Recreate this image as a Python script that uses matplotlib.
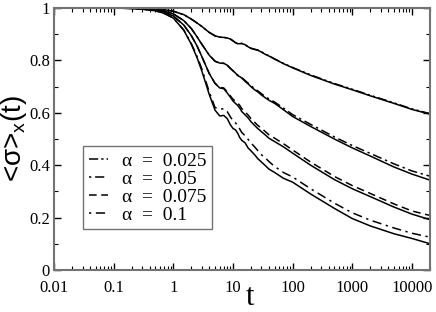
import numpy as np
import matplotlib
matplotlib.use('Agg')
import matplotlib.pyplot as plt
from matplotlib.ticker import FixedLocator, LogLocator, MultipleLocator, NullFormatter

# time grid shared by all curves
t = [0.01, 0.1, 0.2, 0.3, 0.5, 0.7, 1, 1.5, 2, 2.5, 3, 4, 5, 6, 7, 8, 9, 10, 11, 12,
     13, 14, 16, 18, 20, 23, 26, 30, 35, 40, 50, 70, 100, 200, 500, 1000, 2000,
     5000, 10000, 20000]

# alpha = 0.025
a1_solid = [1.0, 1.0, 0.9995, 0.999, 0.997, 0.994, 0.988, 0.975, 0.958, 0.943, 0.93,
            0.907, 0.894, 0.889, 0.888, 0.886, 0.882, 0.875, 0.868, 0.864, 0.864,
            0.865, 0.86, 0.852, 0.846, 0.842, 0.839, 0.832, 0.823, 0.817, 0.805,
            0.788, 0.772, 0.743, 0.71, 0.688, 0.665, 0.636, 0.613, 0.595]
a1_dash = [1.0, 1.0, 0.9995, 0.999, 0.997, 0.994, 0.988, 0.975, 0.958, 0.943, 0.93,
           0.907, 0.894, 0.889, 0.888, 0.886, 0.882, 0.875, 0.868, 0.864, 0.864,
           0.865, 0.86, 0.852, 0.847, 0.843, 0.84, 0.833, 0.824, 0.818, 0.806,
           0.789, 0.773, 0.745, 0.712, 0.69, 0.667, 0.638, 0.615, 0.597]

# alpha = 0.05
a2_solid = [1.0, 1.0, 0.999, 0.998, 0.994, 0.989, 0.978, 0.952, 0.922, 0.89, 0.862,
            0.82, 0.797, 0.79, 0.789, 0.782, 0.77, 0.76, 0.752, 0.742, 0.738, 0.733,
            0.72, 0.71, 0.70, 0.688, 0.68, 0.668, 0.657, 0.648, 0.636, 0.612, 0.586,
            0.548, 0.5, 0.466, 0.435, 0.393, 0.366, 0.343]
a2_dash = [1.0, 1.0, 0.999, 0.998, 0.994, 0.989, 0.978, 0.952, 0.922, 0.89, 0.862,
           0.82, 0.797, 0.79, 0.789, 0.782, 0.77, 0.761, 0.753, 0.744, 0.74, 0.735,
           0.723, 0.713, 0.704, 0.692, 0.684, 0.673, 0.662, 0.653, 0.641, 0.618,
           0.593, 0.556, 0.508, 0.475, 0.445, 0.405, 0.378, 0.358]

# alpha = 0.075
a3_solid = [1.0, 1.0, 0.999, 0.997, 0.992, 0.985, 0.97, 0.935, 0.895, 0.855, 0.815,
            0.75, 0.712, 0.695, 0.692, 0.676, 0.66, 0.645, 0.636, 0.628, 0.618,
            0.605, 0.592, 0.58, 0.566, 0.552, 0.54, 0.528, 0.515, 0.503, 0.49,
            0.47, 0.446, 0.40, 0.345, 0.31, 0.28, 0.24, 0.213, 0.192]
a3_dash = [1.0, 1.0, 0.999, 0.997, 0.992, 0.985, 0.97, 0.935, 0.895, 0.855, 0.815,
           0.75, 0.713, 0.697, 0.695, 0.68, 0.665, 0.652, 0.644, 0.637, 0.628,
           0.616, 0.603, 0.591, 0.578, 0.564, 0.552, 0.541, 0.528, 0.516, 0.503,
           0.482, 0.458, 0.412, 0.357, 0.322, 0.292, 0.252, 0.225, 0.208]

# alpha = 0.1
a4_solid = [1.0, 1.0, 0.999, 0.996, 0.99, 0.98, 0.962, 0.915, 0.862, 0.81, 0.76,
            0.67, 0.61, 0.588, 0.59, 0.578, 0.555, 0.54, 0.535, 0.522, 0.505,
            0.495, 0.485, 0.465, 0.455, 0.44, 0.425, 0.412, 0.398, 0.385, 0.372,
            0.35, 0.335, 0.29, 0.235, 0.196, 0.168, 0.138, 0.12, 0.10]
a4_dash = [1.0, 1.0, 0.999, 0.996, 0.99, 0.98, 0.962, 0.916, 0.865, 0.815, 0.768,
           0.68, 0.62, 0.615, 0.615, 0.605, 0.585, 0.57, 0.562, 0.55, 0.538,
           0.525, 0.512, 0.498, 0.485, 0.47, 0.456, 0.44, 0.427, 0.414, 0.395,
           0.372, 0.355, 0.31, 0.255, 0.218, 0.19, 0.16, 0.14, 0.125]

labels = ['\u03b1  =  0.025', '\u03b1  =  0.05', '\u03b1  =  0.075', '\u03b1  =  0.1']
xticks = [0.01, 0.1, 1, 10, 100, 1000, 10000]
xticklabels = ['0.01', '0.1', '1', '10', '100', '1000', '10000']
yticks = [0, 0.2, 0.4, 0.6, 0.8, 1]
yticklabels = ['0', '0.2', '0.4', '0.6', '0.8', '1']

serif = 'Liberation Serif'

fig = plt.figure(figsize=(4.36, 3.12), dpi=100)
ax = fig.add_axes([0.124, 0.135, 0.862, 0.839])

solids = [a1_solid, a2_solid, a3_solid, a4_solid]
dashes = [a1_dash, a2_dash, a3_dash, a4_dash]
styles = [(0, (6, 2, 1.5, 2, 1.5, 2)),
          (0, (1.5, 2.5, 6, 2.5)),
          (0, (5, 3)),
          (0, (1.5, 3, 6, 3))]

for ys in solids:
    ax.plot(t, ys, color='black', lw=1.1, solid_joinstyle='round')
for ys, ls, lab in zip(dashes, styles, labels):
    ax.plot(t, ys, color='black', lw=1.1, linestyle=ls, label=lab)

ax.set_xscale('log')
ax.set_xlim(0.01, 20000)
ax.set_ylim(0, 1)

ax.xaxis.set_major_locator(FixedLocator(xticks))
ax.set_xticklabels(xticklabels, fontfamily=serif, fontsize=12)
ax.xaxis.set_minor_locator(LogLocator(base=10, subs=np.arange(2, 10), numticks=20))
ax.xaxis.set_minor_formatter(NullFormatter())
ax.set_yticks(yticks)
ax.set_yticklabels(yticklabels, fontfamily=serif, fontsize=12)
ax.yaxis.set_minor_locator(MultipleLocator(0.1))

ax.tick_params(which='both', direction='in', top=True, right=True, color='black')
ax.tick_params(which='major', length=5, width=1)
ax.tick_params(axis='x', which='major', pad=7)
ax.tick_params(axis='y', which='major', pad=3)
ax.tick_params(which='minor', length=3, width=0.8)
for s in ax.spines.values():
    s.set_color('0.45')
    s.set_linewidth(1.5)

# x label placed directly so it sits just under the tick labels
fig.text(0.573, 0.0, 't', fontfamily=serif, fontsize=22, ha='center', va='bottom')
ax.set_ylabel('<\u03c3>$_\\mathregular{x}$(t)', fontfamily='Liberation Sans', fontsize=20,
              labelpad=0)

leg = ax.legend(loc='upper left', bbox_to_anchor=(0.077, 0.473), borderaxespad=0,
                fancybox=False, framealpha=1, edgecolor='0.45', handlelength=1.0,
                handletextpad=0.7, labelspacing=0.02, borderpad=0.3,
                prop={'family': serif, 'size': 14})
leg.get_frame().set_linewidth(1.0)

fig.savefig('out.png', dpi=100)
